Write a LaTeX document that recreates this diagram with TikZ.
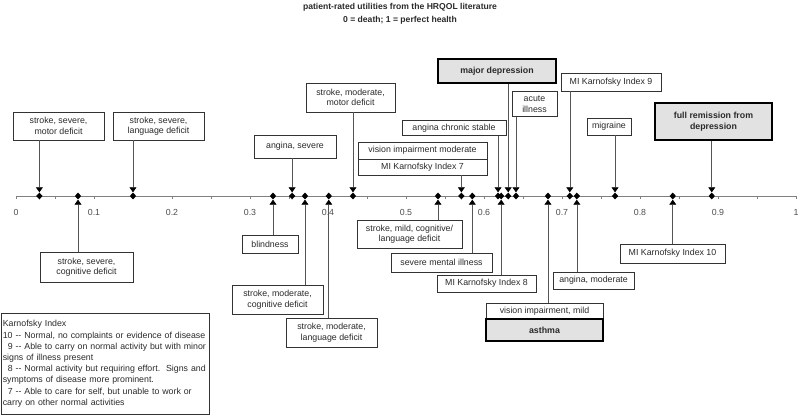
\documentclass[tikz,border=0pt]{standalone}
\usepackage{fontspec}
\setmainfont{Liberation Sans}
\usepackage{xcolor}
\usetikzlibrary{shapes.geometric,arrows.meta,calc}
\definecolor{BoxGrey}{HTML}{E2E2E2}
\definecolor{LineGrey}{HTML}{555555}
\definecolor{AxisGrey}{HTML}{808080}
\definecolor{TextGrey}{HTML}{2A2A2A}
\newcommand{\kdash}{\mbox{-}\mbox{-}}

\begin{document}
\begin{tikzpicture}[x=1pt,y=-1pt,
  lbl/.style={draw=black!80, fill=white, line width=0.6pt, text=TextGrey, align=center,
    inner sep=0pt, font=\fontsize{8.8}{10.5}\selectfont},
  hot/.style={lbl, draw=black, fill=BoxGrey, line width=1.2pt, font=\bfseries\fontsize{8.8}{11}\selectfont},
  hit/.style={diamond, fill=black, inner sep=0pt, minimum width=6.5pt, minimum height=7pt},
  lead/.style={draw=LineGrey, line width=0.6pt, -{Triangle[length=5pt,width=7pt,color=black]}},
  ticklbl/.style={text=black!70, font=\fontsize{8.8}{10}\selectfont}]
  \useasboundingbox (0,0) rectangle (800,415);

  % title
  \node[font=\bfseries\fontsize{8.6}{12.5}\selectfont, align=center, text=TextGrey] (title) at (400,14)
    {patient-rated utilities from the HRQOL literature\\0 = death; 1 = perfect health};

  % utility axis
  \coordinate (zero) at (16,196);
  \coordinate (one) at (796,196);
  \draw[AxisGrey, line width=1pt] (zero) -- ($(one)+(1,0)$);
  \foreach \k in {0,...,20}
    \draw[AxisGrey, line width=0.8pt] ($(zero)!\k/20!(one)$) -- ++(0,3);
  \foreach \v/\n in {0/0,0.1/1,0.2/2,0.3/3,0.4/4,0.5/5,0.6/6,0.7/7,0.8/8,0.9/9,1/10}
    \node[ticklbl] (tick\n) at ($(zero)!\v!(one)+(0,16)$) {\v};

  % states above the axis
  \node[lbl, minimum width=91pt, minimum height=28pt] (smm) at (58.5,126) {stroke, severe,\\motor deficit};
  \node[lbl, minimum width=91pt, minimum height=28pt] (ssl) at (158.5,126) {stroke, severe,\\language deficit};
  \node[lbl, minimum width=82pt, minimum height=23pt] (angs) at (295,146.5) {angina, severe};
  \node[lbl, minimum width=89pt, minimum height=29pt] (smo) at (350.5,97.5) {stroke, moderate,\\motor deficit};
  \node[lbl, minimum width=129pt, minimum height=17pt] (vim) at (422.5,150.5) {vision impairment moderate};
  \node[lbl, minimum width=129pt, minimum height=16pt] (mk7) at (422.5,167) {MI Karnofsky Index 7};
  \node[lbl, minimum width=104pt, minimum height=14.5pt] (acs) at (454,128) {angina chronic stable};
  \node[hot, minimum width=118pt, minimum height=24pt] (mdep) at (497,71) {major depression};
  \node[lbl, minimum width=45pt, minimum height=25pt] (acute) at (534.5,104) {acute\\illness};
  \node[lbl, minimum width=100pt, minimum height=18pt] (mk9) at (611,82) {MI Karnofsky Index 9};
  \node[lbl, minimum width=44pt, minimum height=17pt] (mig) at (609,126.5) {migraine};
  \node[hot, minimum width=117pt, minimum height=37pt] (frd) at (713.5,121.5) {full remission from\\depression};

  % states below the axis
  \node[lbl, minimum width=93pt, minimum height=30pt] (ssc) at (86.5,267) {stroke, severe,\\cognitive deficit};
  \node[lbl, minimum width=56pt, minimum height=18pt] (blind) at (270,244) {blindness};
  \node[lbl, minimum width=91pt, minimum height=29pt] (smc) at (277.5,299.5) {stroke, moderate,\\cognitive deficit};
  \node[lbl, minimum width=91pt, minimum height=29pt] (sml) at (331.5,332.5) {stroke, moderate,\\language deficit};
  \node[lbl, minimum width=105pt, minimum height=28pt] (smild) at (409.5,234) {stroke, mild, cognitive/\\language deficit};
  \node[lbl, minimum width=101pt, minimum height=19pt] (smi) at (441.5,262.5) {severe mental illness};
  \node[lbl, minimum width=99pt, minimum height=17pt] (mk8) at (486.5,283.5) {MI Karnofsky Index 8};
  \node[lbl, minimum width=117pt, minimum height=16pt] (vimild) at (544.5,311) {vision impairment, mild};
  \node[hot, minimum width=117pt, minimum height=22pt] (asth) at (544.5,330) {asthma};
  \node[lbl, minimum width=81pt, minimum height=17pt] (angm) at (593.5,280.5) {angina, moderate};
  \node[lbl, minimum width=105pt, minimum height=19pt] (mk10) at (672.5,253.5) {MI Karnofsky Index 10};

  % utility values on the axis
  \foreach \u/\n in {0.03/smm,0.15/ssl,0.354/angs,0.432/smo,0.571/mk7,0.618/acs,
                     0.631/mdep,0.641/acute,0.71/mk9,0.768/mig,0.892/frd} {
    \node[hit] (m-\n) at ($(zero)!\u!(one)$) {};
    \draw[lead] (\n.south -| m-\n) -- (m-\n.north);
  }
  \foreach \u/\n in {0.0795/ssc,0.3295/blind,0.3705/smc,0.401/sml,0.541/smild,0.585/smi,
                     0.622/mk8,0.682/vimild,0.719/angm,0.842/mk10} {
    \node[hit] (m-\n) at ($(zero)!\u!(one)$) {};
    \draw[lead] (\n.north -| m-\n) -- (m-\n.south);
  }

  % key
  \node[draw=black!80, line width=0.6pt, anchor=north west, align=left, text=TextGrey,
        text width=205pt, inner xsep=1.5pt, inner ysep=0pt, minimum height=101pt,
        font=\fontsize{8.8}{11.2}\selectfont] (key) at (1,313)
    {Karnofsky Index\\
     10 \kdash{} Normal, no complaints or evidence of disease\\
     \hspace*{5pt}9 \kdash{} Able to carry on normal activity but with minor\\
     signs of illness present\\
     \hspace*{5pt}8 \kdash{} Normal activity but requiring effort.\ \ Signs and\\
     symptoms of disease more prominent.\\
     \hspace*{5pt}7 \kdash{} Able to care for self, but unable to work or\\
     carry on other normal activities};
\end{tikzpicture}
\end{document}
